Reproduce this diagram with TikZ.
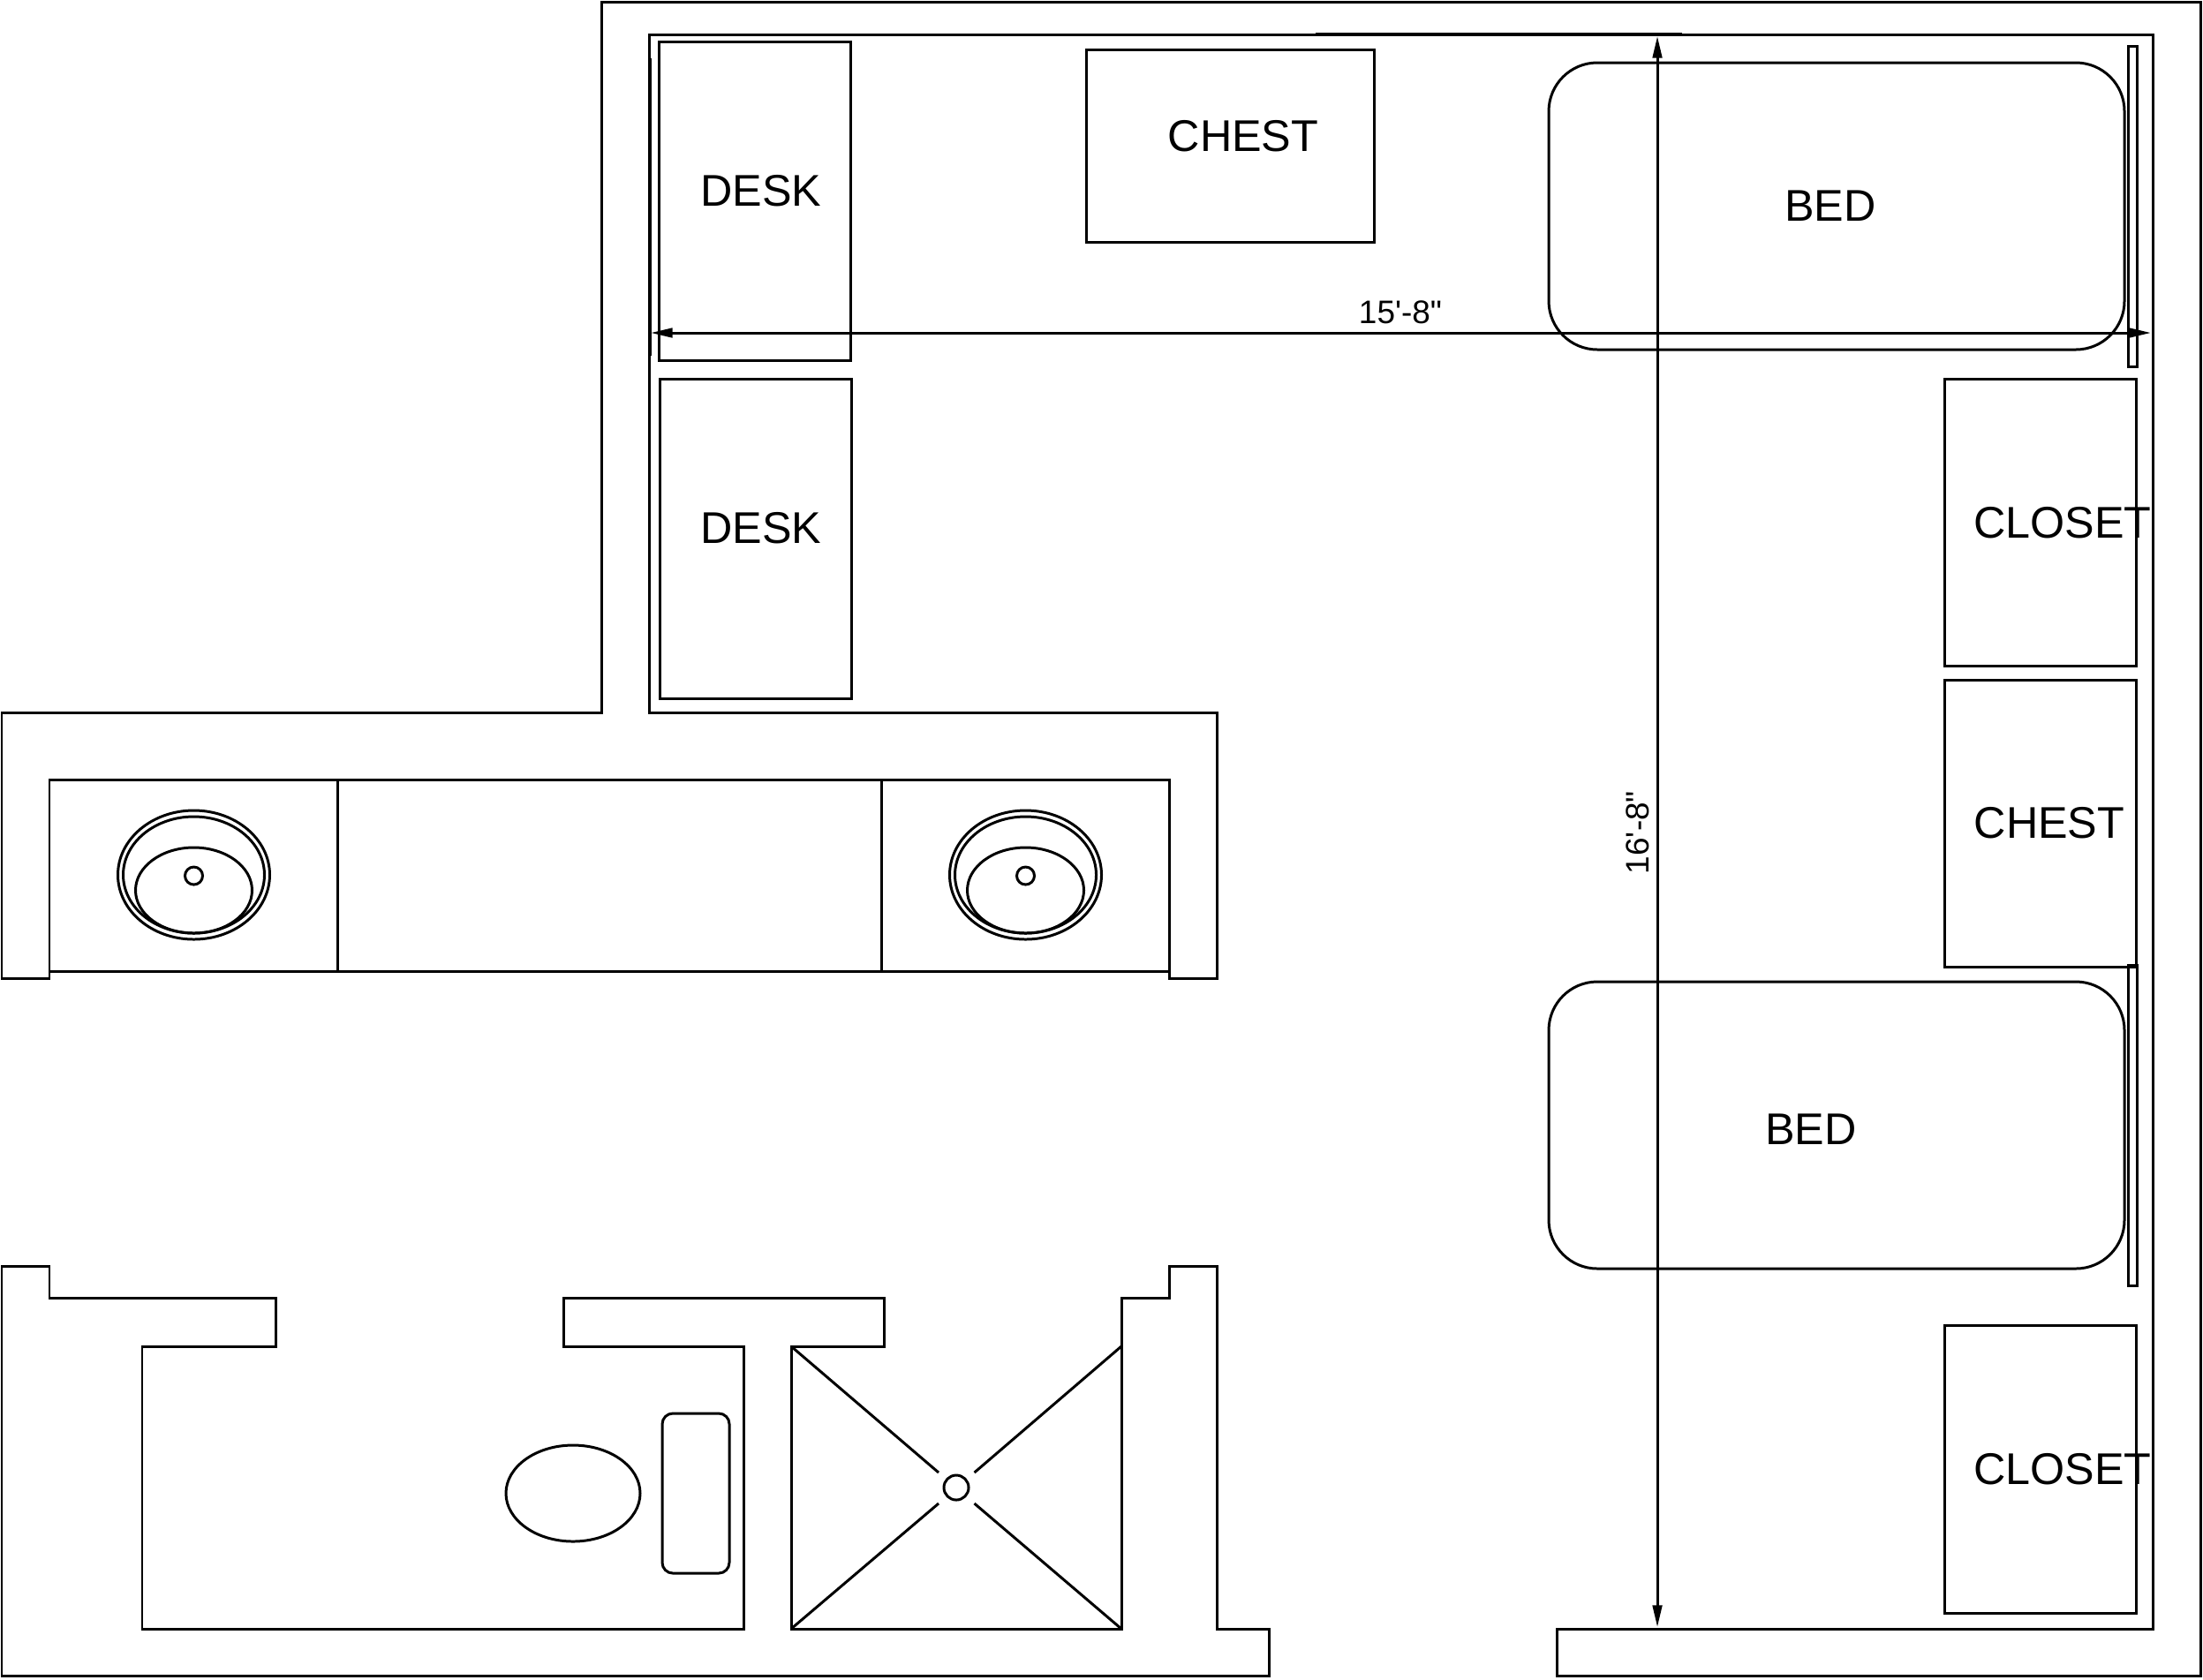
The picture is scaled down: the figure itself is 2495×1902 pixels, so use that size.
\documentclass[tikz,border=0pt]{standalone}
\usepackage{fontspec}
\setmainfont[Ligatures=TeXOff]{Liberation Sans}
\usetikzlibrary{arrows.meta}
\begin{document}
\begin{tikzpicture}[x=0.01cm,y=-0.01cm,line width=0.85pt,
    label/.style={font=\fontsize{14.3}{16}\selectfont,inner sep=0pt},
    dimlabel/.style={font=\fontsize{10.5}{12}\selectfont,inner sep=0pt},
    dimline/.style={{Triangle[length=7pt,width=3pt]}-{Triangle[length=7pt,width=3pt]}}]
    \useasboundingbox (0,0) rectangle (2495,1902);
    % Walls
    \draw (681,2) -- (2492,2) -- (2492,1898) -- (1763,1898) -- (1763,1845) -- (2438,1845) -- (2438,39) -- (735,39) -- (735,807) -- (1378,807) -- (1378,1108) -- (1324,1108) -- (1324,883) -- (56,883) -- (56,1108) -- (2,1108) -- (2,807) -- (681,807) -- cycle;
    \draw (2,1434) -- (56,1434) -- (56,1470) -- (312,1470) -- (312,1525) -- (161,1525) -- (161,1845) -- (842,1845) -- (842,1525) -- (638,1525) -- (638,1470) -- (1001,1470) -- (1001,1525) -- (896,1525) -- (896,1845) -- (1270,1845) -- (1270,1470) -- (1324,1470) -- (1324,1434) -- (1378,1434) -- (1378,1845) -- (1437,1845) -- (1437,1898) -- (2,1898) -- cycle;
    \draw (1490,38) -- (1905,38);
    \draw (736,66) -- (736,403);
    % Vanity
    \draw (56,1100) -- (1324,1100);
    \foreach \x in {382,998} \draw (\x,883) -- (\x,1100);
    % Sinks
    \foreach \x in {219.5,1161.5} {
        \draw (\x,991) ellipse [x radius=86,y radius=73];
        \draw (\x,991) ellipse [x radius=80,y radius=66];
        \draw (\x,1008.5) ellipse [x radius=66,y radius=48.5];
        \draw (\x,992) circle [radius=10];
    }
    % Furniture
    \draw (746,47) rectangle (963,408);
    \draw (747,429) rectangle (964,791);
    \draw (1230,56) rectangle (1556,274);
    \draw (2202,429) rectangle (2419,754);
    \draw (2202,770) rectangle (2419,1095);
    \draw (2202,1501) rectangle (2419,1827);
    % Beds
    \foreach \y in {71,1112} \draw[rounded corners=0.55cm] (1754,\y) rectangle (2406,\y+325);
    \draw (2410,52) rectangle (2420,415);
    \draw (2410,1093) rectangle (2420,1456);
    % Toilet
    \draw (649,1691.5) ellipse [x radius=76,y radius=54.5];
    \draw[rounded corners=0.12cm] (750,1601) rectangle (826,1782);
    % Shower
    \node[circle,draw,minimum size=0.28cm,inner sep=0pt] (D) at (1083,1685) {};
    \draw (896,1525) -- (1063,1668);
    \draw (1270,1525) -- (1103.5,1668);
    \draw (896,1845) -- (1063,1703);
    \draw (1270,1845) -- (1103.5,1703);
    % Labels
    \node[label] (desk1) at (862,216) {DESK};
    \node[label] (desk2) at (862,598) {DESK};
    \node[label] (chest1) at (1408,154) {CHEST};
    \node[label] (chest2) at (2321,932) {CHEST};
    \node[label] (bed1) at (2073,233) {BED};
    \node[label] (bed2) at (2051,1279) {BED};
    \node[label] (closet1) at (2336,592) {CLOSET};
    \node[label] (closet2) at (2336,1664) {CLOSET};
    % Dimensions
    \coordinate (W1) at (737,377);
    \coordinate (W2) at (2436,377);
    \coordinate (H1) at (1877,41);
    \coordinate (H2) at (1877,1843);
    \draw[dimline] (W1) -- (W2);
    \draw[dimline] (H1) -- (H2);
    \node[dimlabel] (width) at (1586,354) {15'-8"};
    \node[dimlabel,rotate=90] (height) at (1855,943) {16'-8"};
\end{tikzpicture}
\end{document}
